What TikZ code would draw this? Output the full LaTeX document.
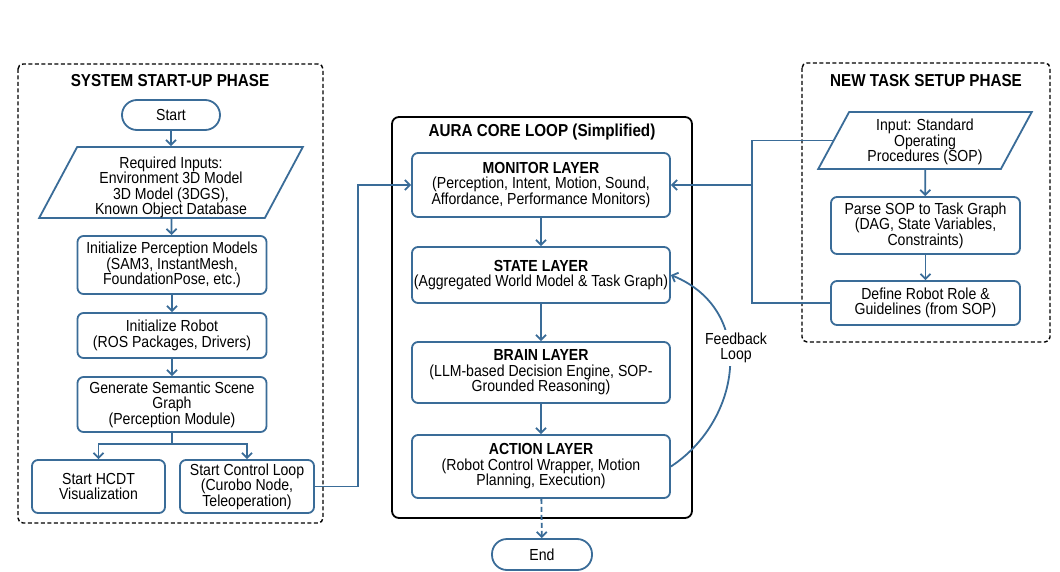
\documentclass[tikz,border=0pt]{standalone}
\usepackage{fontspec}
\setmainfont{Liberation Sans}[FakeStretch=0.88]
\usetikzlibrary{arrows.meta,shapes.geometric,calc}
\definecolor{flowblue}{RGB}{58,108,152}
\begin{document}
\begin{tikzpicture}[x=1pt,y=-1pt,
  every node/.style={font=\fontsize{16}{15.5}\selectfont, text=black, align=center},
  proc/.style={draw=flowblue, line width=1.8pt, rounded corners=6pt, fill=white, inner sep=0pt},
  term/.style={draw=flowblue, line width=1.8pt, rounded corners=15pt, fill=white, inner sep=0pt},
  inbox/.style={draw=flowblue, line width=1.8pt, fill=white, trapezium, trapezium stretches=true, inner sep=0pt},
  phase/.style={draw=black, line width=1.4pt, dash pattern=on 4pt off 2.5pt, rounded corners=5pt},
  ttl/.style={font=\fontsize{17.3}{19}\selectfont\bfseries},
  flow/.style={draw=flowblue, line width=1.8pt, -{Straight Barb[length=5pt,width=10pt]}},
  wire/.style={draw=flowblue, line width=1.8pt},
]
\useasboundingbox[fill=white] (0,0) rectangle (1060,572);

% --- system start-up phase ---
\draw[phase] (18,64) rectangle (323,523);
\node[ttl] (t1) at (170,81) {SYSTEM START-UP PHASE};
\node[term, minimum width=98pt, minimum height=30pt] (start) at (171,115) {Start};
\node[inbox, trapezium left angle=66.6, trapezium right angle=113.4,
      minimum width=264pt, minimum height=67pt] (req) at (171,182.5)
      {\rule{0pt}{21pt}Required Inputs:\\Environment 3D Model\\3D Model (3DGS),\\Known Object Database};
\node[proc, minimum width=189pt, minimum height=58pt] (percep) at (172,265)
      {Initialize Perception Models\\(SAM3, InstantMesh,\\FoundationPose, etc.)};
\node[proc, minimum width=189pt, minimum height=45pt] (robot) at (172,335.5)
      {Initialize Robot\\(ROS Packages, Drivers)};
\node[proc, minimum width=189pt, minimum height=55pt] (scene) at (172,404.5)
      {Generate Semantic Scene\\Graph\\(Perception Module)};
\node[proc, minimum width=133pt, minimum height=53pt] (hcdt) at (98.5,486.5)
      {Start HCDT\\Visualization};
\node[proc, minimum width=134pt, minimum height=53pt] (ctl) at (247,486.5)
      {Start Control Loop\\(Curobo Node,\\Teleoperation)};

\draw[flow] (start) -- (req);
\draw[flow] (req) -- (percep);
\draw[flow] (percep) -- (robot);
\draw[flow] (robot) -- (scene);
\draw[wire] (scene.south) -- ++(0,11) coordinate (split);
\draw[flow] (split) -| (hcdt.north);
\draw[flow] (split) -| (ctl.north);

% --- core loop ---
\draw[line width=1.8pt, rounded corners=7pt] (392,117) rectangle (692,518);
\node[ttl] (t2) at (542,132) {AURA CORE LOOP (Simplified)};
\node[proc, minimum width=258pt, minimum height=64pt] (monitor) at (541,185)
      {\textbf{MONITOR LAYER}\\(Perception, Intent, Motion, Sound,\\Affordance, Performance Monitors)};
\node[proc, minimum width=258pt, minimum height=56pt] (state) at (541,275)
      {\textbf{STATE LAYER}\\(Aggregated World Model \& Task Graph)};
\node[proc, minimum width=258pt, minimum height=61pt] (brain) at (541,372.5)
      {\textbf{BRAIN LAYER}\\(LLM-based Decision Engine, SOP-\\Grounded Reasoning)};
\node[proc, minimum width=258pt, minimum height=63pt] (action) at (541,466.5)
      {\textbf{ACTION LAYER}\\(Robot Control Wrapper, Motion\\Planning, Execution)};
\node[term, minimum width=100pt, minimum height=31pt] (end) at (542,554.5) {End};

\draw[flow] (monitor) -- (state);
\draw[flow] (state) -- (brain);
\draw[flow] (brain) -- (action);
\draw[flow, dash pattern=on 5pt off 3pt] (action) -- (end);

% feedback from action back to state
\draw[flow] (action.east) .. controls (742,420) and (757,310) .. (state.east);
\node[fill=white, inner sep=3pt] (fb) at (736,348) {Feedback\\Loop};

% start-up hands over to the monitor layer
\draw[flow] (ctl.east) -- ++(43,0) |- (monitor.west);

% --- new task setup phase ---
\draw[phase] (802,63) rectangle (1050,342);
\node[ttl] (t3) at (926,81) {NEW TASK SETUP PHASE};
\node[inbox, trapezium left angle=64.6, trapezium right angle=115.4,
      minimum width=214pt, minimum height=57pt] (sop) at (925,140.5)
      {\rule{0pt}{15pt}Input: Standard\\Operating\\Procedures (SOP)};
\node[proc, minimum width=189pt, minimum height=57pt] (parse) at (925.5,225.5)
      {Parse SOP to Task Graph\\(DAG, State Variables,\\Constraints)};
\node[proc, minimum width=189pt, minimum height=44pt] (role) at (925.5,303)
      {Define Robot Role \&\\Guidelines (from SOP)};

\draw[flow] (sop) -- (parse);
\draw[flow] (parse) -- (role);
\coordinate (jn) at (752,185);
\draw[wire] (sop.west) -| (jn) |- (role.west);
\draw[flow] (jn) -- (monitor.east);
\end{tikzpicture}
\end{document}
